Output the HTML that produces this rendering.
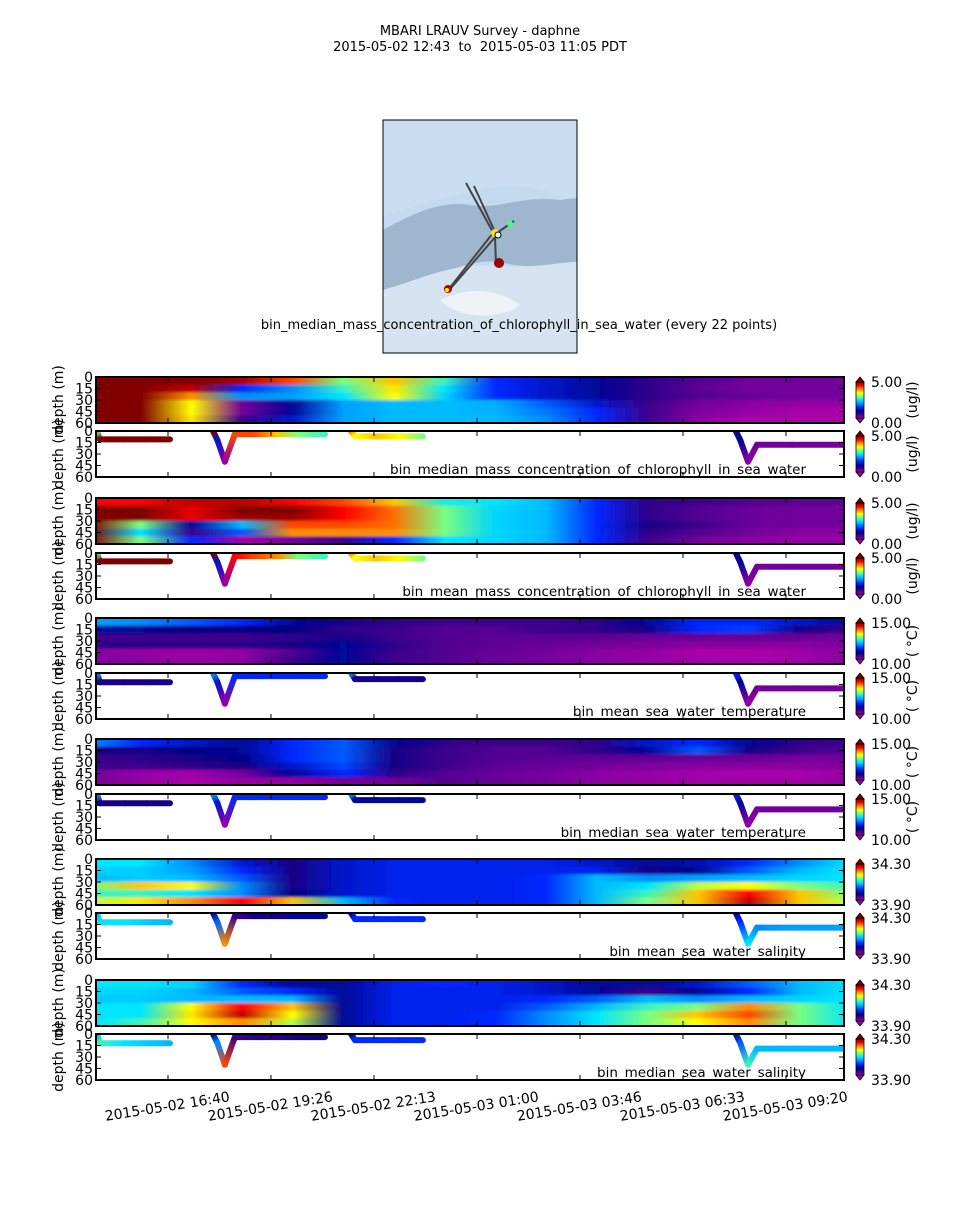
<!DOCTYPE html>
<html><head><meta charset="utf-8">
<style>
html,body{margin:0;padding:0;background:#fff;}
body{width:960px;height:1200px;overflow:hidden;font-family:"Liberation Sans","DejaVu Sans",sans-serif;}
svg text{font-family:"DejaVu Sans","Liberation Sans",sans-serif;}
</style></head>
<body>
<svg id="fig" width="960" height="1200" viewBox="0 0 960 1200" xmlns="http://www.w3.org/2000/svg">
  <text x="480" y="35" text-anchor="middle" font-size="13">MBARI LRAUV Survey - daphne</text>
  <text x="480" y="51" text-anchor="middle" font-size="13" xml:space="preserve">2015-05-02 12:43&#160; to&#160; 2015-05-03 11:05 PDT</text>
  <g>
    <rect x="383" y="120" width="194" height="233" fill="#c3daf0"/>
    <path d="M383 120 H577 V200 C540 190 520 180 480 190 C450 195 420 205 383 215 Z" fill="#c9def2"/>
    <path d="M383 230 C410 215 440 200 470 205 C500 210 520 195 560 200 L577 198 V262 C550 265 530 270 500 262 C470 258 440 275 410 285 L383 290 Z" fill="#9fb6cf"/>
    <path d="M383 290 C420 280 450 262 500 266 C540 268 560 262 577 262 V353 H383 Z" fill="#d6e4f2"/>
    <path d="M440 300 C470 285 500 290 520 305 C500 320 460 320 440 300 Z" fill="#eef3f8"/>
    <g stroke="#444" stroke-width="2" fill="none">
      <line x1="466" y1="183" x2="494" y2="234"/>
      <line x1="474" y1="186" x2="496" y2="234"/>
      <line x1="493" y1="233" x2="448" y2="290"/>
      <line x1="497" y1="235" x2="451" y2="288"/>
      <line x1="494" y1="235" x2="514" y2="221"/>
      <line x1="495" y1="236" x2="496" y2="265"/>
    </g>
    <circle cx="495" cy="233" r="4" fill="#ffe000"/><circle cx="498" cy="235" r="3" fill="#fff" stroke="#000"/>
    <circle cx="510" cy="224" r="3" fill="#40ff90"/><circle cx="499" cy="263" r="5" fill="#900"/>
    <circle cx="448" cy="289" r="4" fill="#b00000"/><circle cx="447" cy="290" r="2" fill="#ff0"/>
    <rect x="383" y="120" width="194" height="233" fill="none" stroke="#000" stroke-width="1"/>
  </g>
  <text x="519" y="329" text-anchor="middle" font-size="13">bin_median_mass_concentration_of_chlorophyll_in_sea_water (every 22 points)</text>
  <defs id="defs"></defs>
  <g id="panels"></g>
</svg>
<script>
// ---------- data ----------
const timeTickLabels = ["2015-05-02 16:40","2015-05-02 19:26","2015-05-02 22:13","2015-05-03 01:00","2015-05-03 03:46","2015-05-03 06:33","2015-05-03 09:20"];
const timeTickHours = [16.667,19.444,22.222,25.0,27.778,30.556,33.333];
const depthTicks = [0,15,30,45,60];
const depthBandsTop = [0,10,20,30,40,50];

const hmChlMedian = [
 [1,1,1,0.97,0.85,0.6,0.75,0.55,0.3,0.25,0.2,0.12,0.08,0.05,0.05,0.05],
 [1,1,0.95,0.3,0.4,0.55,0.72,0.5,0.3,0.25,0.2,0.12,0.07,0.05,0.05,0.05],
 [1,1,0.8,0.4,0.42,0.5,0.7,0.48,0.3,0.25,0.2,0.12,0.08,0.06,0.05,0.05],
 [1,1,0.7,0.05,0.2,0.42,0.45,0.45,0.44,0.35,0.25,0.1,0.05,0.03,0.02,0.02],
 [1,1,0.7,0.05,0.2,0.42,0.45,0.45,0.44,0.38,0.3,0.1,0.04,0.02,0.0,0.0],
 [1,1,0.72,0.1,0.25,0.42,0.45,0.45,0.45,0.4,0.3,0.1,0.03,0.0,0.0,0.0]];
const hmChlMean = [
 [0.9,0.9,0.95,0.95,0.9,0.85,0.75,0.52,0.5,0.45,0.3,0.12,0.1,0.08,0.07,0.07],
 [1,1,0.92,1,1,0.9,0.82,0.6,0.48,0.45,0.3,0.12,0.08,0.06,0.05,0.05],
 [1,1,0.92,0.98,0.98,0.9,0.82,0.6,0.48,0.45,0.3,0.12,0.08,0.06,0.05,0.05],
 [1,0.6,0.2,0.45,0.85,0.85,0.82,0.6,0.48,0.45,0.3,0.15,0.1,0.06,0.05,0.05],
 [1,0.5,0.1,0.35,0.8,0.8,0.8,0.6,0.48,0.45,0.3,0.12,0.08,0.05,0.03,0.03],
 [1,0.6,0.3,0.0,0.05,0.1,0.3,0.5,0.48,0.45,0.3,0.1,0.05,0.03,0.02,0.02]];
const hmTempMean = [
 [0.42,0.4,0.35,0.3,0.2,0.15,0.12,0.1,0.1,0.1,0.12,0.2,0.3,0.3,0.25,0.2],
 [0.2,0.2,0.18,0.18,0.18,0.12,0.1,0.08,0.08,0.1,0.12,0.15,0.3,0.32,0.15,0.1],
 [0.1,0.1,0.1,0.1,0.12,0.15,0.1,0.08,0.07,0.07,0.07,0.06,0.06,0.06,0.06,0.05],
 [0.12,0.12,0.12,0.12,0.15,0.2,0.12,0.08,0.07,0.06,0.05,0.04,0.03,0.03,0.03,0.04],
 [0.03,0.02,0.01,0.02,0.08,0.2,0.1,0.08,0.06,0.05,0.03,0.02,0.0,0.0,0.01,0.03],
 [0.04,0.03,0.02,0.03,0.1,0.2,0.1,0.08,0.06,0.05,0.03,0.02,0.01,0.0,0.01,0.03]];
const hmTempMedian = [
 [0.4,0.3,0.25,0.2,0.3,0.35,0.2,0.12,0.1,0.1,0.12,0.25,0.3,0.2,0.12,0.1],
 [0.15,0.15,0.18,0.2,0.3,0.35,0.15,0.1,0.08,0.08,0.12,0.2,0.35,0.15,0.1,0.08],
 [0.1,0.12,0.15,0.18,0.3,0.35,0.15,0.1,0.08,0.07,0.07,0.07,0.06,0.06,0.05,0.05],
 [0.1,0.1,0.12,0.15,0.25,0.33,0.15,0.1,0.07,0.06,0.05,0.04,0.03,0.03,0.03,0.04],
 [0.05,0.02,0.01,0.05,0.2,0.3,0.12,0.08,0.06,0.05,0.03,0.02,0.01,0.0,0.0,0.02],
 [0.05,0.02,0.0,0.02,0.02,0.05,0.05,0.08,0.06,0.05,0.03,0.02,0.01,0.01,0.01,0.02]];
const hmSalMean = [
 [0.5,0.5,0.4,0.25,0.15,0.25,0.28,0.28,0.28,0.28,0.25,0.2,0.22,0.3,0.4,0.5],
 [0.48,0.47,0.42,0.3,0.15,0.25,0.28,0.28,0.28,0.28,0.28,0.15,0.2,0.35,0.45,0.5],
 [0.45,0.47,0.45,0.35,0.15,0.25,0.28,0.28,0.28,0.3,0.45,0.4,0.42,0.45,0.48,0.5],
 [0.6,0.75,0.7,0.4,0.15,0.25,0.28,0.28,0.28,0.3,0.45,0.5,0.65,0.7,0.6,0.55],
 [0.55,0.55,0.5,0.4,0.18,0.25,0.28,0.28,0.28,0.3,0.45,0.55,0.75,0.9,0.75,0.6],
 [0.65,0.72,0.8,0.9,0.75,0.45,0.3,0.28,0.28,0.3,0.45,0.6,0.75,0.95,0.75,0.65]];
const hmSalMedian = [
 [0.5,0.5,0.48,0.3,0.2,0.2,0.28,0.3,0.28,0.25,0.2,0.2,0.25,0.35,0.45,0.5],
 [0.48,0.48,0.45,0.35,0.3,0.2,0.28,0.28,0.28,0.25,0.2,0.1,0.2,0.3,0.45,0.5],
 [0.47,0.47,0.45,0.45,0.45,0.2,0.28,0.28,0.28,0.3,0.35,0.45,0.4,0.45,0.48,0.5],
 [0.5,0.5,0.7,0.9,0.75,0.2,0.28,0.28,0.28,0.35,0.45,0.55,0.6,0.8,0.6,0.5],
 [0.5,0.5,0.72,0.95,0.7,0.2,0.28,0.28,0.3,0.4,0.5,0.6,0.75,0.85,0.6,0.5],
 [0.5,0.55,0.7,0.8,0.65,0.2,0.28,0.28,0.3,0.4,0.5,0.6,0.7,0.8,0.6,0.5]];

// track vertices (hours since 2015-05-02 00:00, depth m)
const trackSeg   = [0,0,0,0,0, 1,1,1,1,1,1,1,1, 2,2,2,2,2, 3,3,3,3,3,3];
const trackHours = [14.75,14.83,15.5,16.1,16.72, 17.88,18.0,18.2,18.47,19.0,19.6,20.2,20.9, 21.6,21.71,22.3,22.9,23.54, 31.98,32.1,32.31,32.55,33.5,34.9];
const depthChl   = [0,11,11,11,11, 0,12,40,4,4,4,4,4, 0,7,7,7,7, 0,12,40,18,18,18];
const depthTemp  = [0,12,12,12,12, 0,12,40,4,4,4,4,4, 0,8,8,8,8, 0,12,40,20,20,20];
const depthSal   = [0,12,12,12,12, 0,12,40,4,4,4,4,4, 0,8,8,8,8, 0,12,40,19,19,19];
const valChlMedian = [0.6,1,1,1,1, 1,0.25,0.02,0.85,0.85,0.75,0.6,0.55, 0.8,0.7,0.75,0.7,0.6, 0.15,0.2,0.03,0.05,0.05,0.05];
const valChlMean   = [0.6,1,1,1,1, 1,0.25,0.02,0.9,0.85,0.8,0.6,0.55, 0.8,0.7,0.75,0.7,0.6, 0.15,0.2,0.03,0.05,0.05,0.05];
const valTempMean  = [0.42,0.15,0.15,0.15,0.15, 0.42,0.25,0.02,0.3,0.3,0.3,0.3,0.3, 0.42,0.15,0.15,0.15,0.15, 0.3,0.2,0.02,0.05,0.05,0.05];
const valTempMedian= [0.42,0.15,0.15,0.15,0.15, 0.42,0.25,0.02,0.3,0.3,0.3,0.3,0.3, 0.42,0.2,0.2,0.2,0.2, 0.3,0.2,0.02,0.05,0.05,0.05];
const valSalMean   = [0.45,0.5,0.5,0.47,0.45, 0.2,0.35,0.8,0.1,0.15,0.15,0.2,0.2, 0.2,0.3,0.3,0.3,0.3, 0.2,0.3,0.5,0.4,0.42,0.42];
const valSalMedian = [0.45,0.55,0.5,0.47,0.45, 0.2,0.4,0.85,0.1,0.12,0.12,0.15,0.15, 0.2,0.3,0.3,0.3,0.3, 0.2,0.35,0.55,0.45,0.45,0.45];

// ---------- helpers ----------
const NS="http://www.w3.org/2000/svg";
const X0=96, X1=844;
function xScale(h){ return 168 + (h-16.667)*37.08; }
const cmapStops=[[0,[170,0,170]],[0.1,[60,0,140]],[0.18,[0,0,130]],[0.3,[0,40,255]],[0.42,[0,160,255]],[0.5,[0,230,255]],[0.6,[120,255,130]],[0.7,[255,255,0]],[0.8,[255,140,0]],[0.9,[255,0,0]],[1,[128,0,0]]];
function cmap(t){
  t=Math.max(0,Math.min(1,t));
  for(let i=1;i<cmapStops.length;i++){
    if(t<=cmapStops[i][0]){
      const a=cmapStops[i-1],b=cmapStops[i],f=(t-a[0])/(b[0]-a[0]);
      const c=a[1].map((v,k)=>Math.round(v+(b[1][k]-v)*f));
      return `rgb(${c[0]},${c[1]},${c[2]})`;
    }
  }
  return "rgb(128,0,0)";
}
function mk(tag,attrs,parent){ const e=document.createElementNS(NS,tag); for(const k in attrs) e.setAttribute(k,attrs[k]); parent.appendChild(e); return e; }
const defs=document.getElementById('defs'), root=document.getElementById('panels');
let gid=0;

const cbg=mk('linearGradient',{id:'cbgrad',x1:0,y1:1,x2:0,y2:0},defs);
for(let i=0;i<=20;i++) mk('stop',{offset:i/20,'stop-color':cmap(i/20)},cbg);

const panelDefs=[
 {top:377,kind:'hm',data:hmChlMedian,lo:'0.00',hi:'5.00',unit:'(ug/l)',name:'chl-median-heatmap'},
 {top:431,kind:'tr',depth:depthChl,val:valChlMedian,lo:'0.00',hi:'5.00',unit:'(ug/l)',title:'bin_median_mass_concentration_of_chlorophyll_in_sea_water',name:'chl-median-track'},
 {top:498,kind:'hm',data:hmChlMean,lo:'0.00',hi:'5.00',unit:'(ug/l)',name:'chl-mean-heatmap'},
 {top:553,kind:'tr',depth:depthChl,val:valChlMean,lo:'0.00',hi:'5.00',unit:'(ug/l)',title:'bin_mean_mass_concentration_of_chlorophyll_in_sea_water',name:'chl-mean-track'},
 {top:618,kind:'hm',data:hmTempMean,lo:'10.00',hi:'15.00',unit:'( °C)',name:'temp-mean-heatmap'},
 {top:673,kind:'tr',depth:depthTemp,val:valTempMean,lo:'10.00',hi:'15.00',unit:'( °C)',title:'bin_mean_sea_water_temperature',name:'temp-mean-track'},
 {top:739,kind:'hm',data:hmTempMedian,lo:'10.00',hi:'15.00',unit:'( °C)',name:'temp-median-heatmap'},
 {top:794,kind:'tr',depth:depthTemp,val:valTempMedian,lo:'10.00',hi:'15.00',unit:'( °C)',title:'bin_median_sea_water_temperature',name:'temp-median-track'},
 {top:859,kind:'hm',data:hmSalMean,lo:'33.90',hi:'34.30',unit:'',name:'salinity-mean-heatmap'},
 {top:913,kind:'tr',depth:depthSal,val:valSalMean,lo:'33.90',hi:'34.30',unit:'',title:'bin_mean_sea_water_salinity',name:'salinity-mean-track'},
 {top:980,kind:'hm',data:hmSalMedian,lo:'33.90',hi:'34.30',unit:'',name:'salinity-median-heatmap'},
 {top:1034,kind:'tr',depth:depthSal,val:valSalMedian,lo:'33.90',hi:'34.30',unit:'',title:'bin_median_sea_water_salinity',name:'salinity-median-track'}
];
const PH=46;

panelDefs.forEach((p,pi)=>{
  const g=mk('g',{},root);
  
  
  const yS=d=>p.top + d/60*PH;
  const cid='clip'+pi;
  const cp=mk('clipPath',{id:cid},defs); mk('rect',{x:X0,y:p.top,width:X1-X0,height:PH},cp);
  if(p.kind==='hm'){
    const fid='blur'+pi;
    const f=mk('filter',{id:fid,x:'-5%',y:'-20%',width:'110%',height:'140%'},defs);
    mk('feGaussianBlur',{stdDeviation:'1 1.2'},f);
    const hg=mk('g',{'clip-path':`url(#${cid})`},g);
    const inner=mk('g',{filter:`url(#${fid})`},hg);
    const n=p.data[0].length;
    p.data.forEach((row,ri)=>{
      const id='hg'+(gid++);
      const lg=mk('linearGradient',{id:id,x1:0,y1:0,x2:1,y2:0},defs);
      row.forEach((v,ci)=>mk('stop',{offset:ci/(n-1),'stop-color':cmap(v)},lg));
      const d0=depthBandsTop[ri], d1=ri+1<depthBandsTop.length?depthBandsTop[ri+1]:60;
      const r=mk('rect',{x:X0-6,y:yS(d0)-(ri===0?6:0),width:X1-X0+12,height:yS(d1)-yS(d0)+(ri===0?6:0)+(ri===p.data.length-1?6:0.5),fill:`url(#${id})`},inner);
      
      
    });
  } else {
    const tg=mk('g',{'clip-path':`url(#${cid})`},g);
    for(let i=0;i<trackHours.length-1;i++){
      if(trackSeg[i]!==trackSeg[i+1]) continue;
      const x1=xScale(trackHours[i]),y1=yS(p.depth[i]),x2=xScale(trackHours[i+1]),y2=yS(p.depth[i+1]);
      const id='tg'+(gid++);
      const lg=mk('linearGradient',{id:id,gradientUnits:'userSpaceOnUse',x1:x1,y1:y1,x2:x2+0.01,y2:y2},defs);
      mk('stop',{offset:0,'stop-color':cmap(p.val[i])},lg);
      mk('stop',{offset:1,'stop-color':cmap(p.val[i+1])},lg);
      const l=mk('line',{x1:x1,y1:y1,x2:x2,y2:y2,stroke:`url(#${id})`,'stroke-width':6,'stroke-linecap':'round'},tg);
      
      
    }
    const t=mk('text',{x:806,y:p.top+PH-3,'text-anchor':'end','font-size':13.5},g);
    t.textContent=p.title;
    
    
  }
  mk('rect',{x:X0,y:p.top,width:X1-X0,height:PH,fill:'none',stroke:'#000','stroke-width':2},g);
  depthTicks.forEach(d=>{
    const y=yS(d);
    if(d>0&&d<60){ mk('line',{x1:X0,y1:y,x2:X0+5,y2:y,stroke:'#000'},g); mk('line',{x1:X1-5,y1:y,x2:X1,y2:y,stroke:'#000'},g); }
    const t=mk('text',{x:X0-3,y:y+5,'text-anchor':'end','font-size':14},g);
    t.textContent=d;
    
    
  });
  timeTickHours.forEach(h=>{ const x=xScale(h); mk('line',{x1:x,y1:p.top+PH,x2:x,y2:p.top+PH-5,stroke:'#000'},g); mk('line',{x1:x,y1:p.top,x2:x,y2:p.top+5,stroke:'#000'},g); });
  const yl=mk('text',{x:0,y:0,'text-anchor':'middle','font-size':14,transform:`translate(63,${p.top+PH/2}) rotate(-90)`},g);
  yl.textContent='depth (m)';
  
  
  const cb=mk('g',{},g);
  
  
  const cx0=856,cx1=864,cy0=p.top+5,cy1=p.top+PH-5;
  mk('path',{d:`M${cx0} ${cy0} L${(cx0+cx1)/2} ${p.top} L${cx1} ${cy0} Z`,fill:cmap(1),stroke:'#000','stroke-width':0.8},cb);
  mk('path',{d:`M${cx0} ${cy1} L${(cx0+cx1)/2} ${p.top+PH} L${cx1} ${cy1} Z`,fill:cmap(0),stroke:'#000','stroke-width':0.8},cb);
  mk('rect',{x:cx0,y:cy0,width:cx1-cx0,height:cy1-cy0,fill:'url(#cbgrad)',stroke:'#000','stroke-width':0.8},cb);
  const th=mk('text',{x:871,y:p.top+10,'font-size':14},cb); th.textContent=p.hi;
  
  
  const tl=mk('text',{x:871,y:p.top+PH+5,'font-size':14},cb); tl.textContent=p.lo;
  
  
  if(p.unit){
    const u=mk('text',{x:0,y:0,'text-anchor':'middle','font-size':14,transform:`translate(917,${p.top+PH/2}) rotate(-90)`},cb);
    u.textContent=p.unit;
    
    
  }
});
timeTickHours.forEach((h,i)=>{
  const x=xScale(h);
  const t=mk('text',{x:0,y:0,'text-anchor':'middle','font-size':14,transform:`translate(${x},1111) rotate(-9)`},root);
  t.textContent=timeTickLabels[i];
  
  
});
</script>
</body></html>
